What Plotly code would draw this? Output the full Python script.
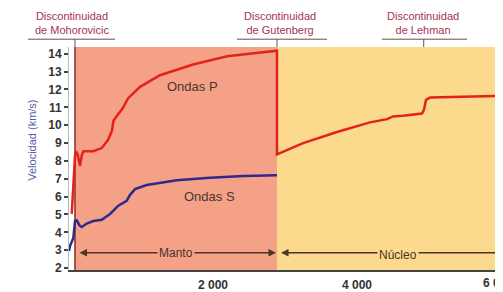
import plotly.graph_objects as go

# ---- data (depth km, velocity km/s) ----
p_depth = [38, 60, 70, 83, 98, 121, 153, 177, 199, 338, 454, 542, 597, 618, 680, 750, 819,
           987, 1264, 1723, 2195, 2653, 2861, 2889, 2889, 3251, 3722, 4181, 4418, 4501, 4640,
           4903, 4931, 4959, 5015, 5570, 6028]
p_vel = [5.03, 6.65, 6.8, 8.27, 8.54, 8.35, 7.73, 8.3, 8.54, 8.54, 8.72, 9.17, 9.7, 10.25, 10.6,
         10.97, 11.5, 12.15, 12.8, 13.4, 13.86, 14.08, 14.16, 14.17, 8.37, 9.0, 9.62, 10.16, 10.34,
         10.49, 10.53, 10.65, 10.88, 11.42, 11.55, 11.6, 11.65]

s_depth = [0, 14, 60, 83, 108, 143, 177, 247, 338, 454, 570, 685, 801, 848, 917, 1079, 1496,
           1959, 2421, 2861, 2889]
s_vel = [2.96, 3.23, 3.68, 4.63, 4.67, 4.4, 4.3, 4.49, 4.63, 4.7, 5.03, 5.49, 5.76, 6.1, 6.42,
         6.65, 6.92, 7.06, 7.15, 7.19, 7.2]

x_range = [0, 6028]
y_range = [1.89, 14.38]
y_ticks = list(range(2, 15))
x_ticks = [2000, 4000]
x_ticktext = ["2 000", "4 000"]
x_offtick = 6000
moho, gutenberg, lehman = 83, 2889, 4927
disc_names = ["de Mohorovicic", "de Gutenberg", "de Lehman"]
disc_label_x = [42, 2931, 4917]
# underline spans (km) for the discontinuity labels
underlines = [(-569, 639), (2333, 3584), (4348, 5528)]
manto_color = "#F5A187"
nucleo_color = "#FBD98D"
label_color = "#A33352"
dark = "#4a3428"
FONT = "Liberation Sans, Arial, sans-serif"


def to_paper(xd):
    return (xd - x_range[0]) / (x_range[1] - x_range[0])


fig = go.Figure()
fig.add_trace(go.Scatter(x=p_depth, y=p_vel, mode="lines",
                         line=dict(color="#E2231B", width=2.5), showlegend=False))
fig.add_trace(go.Scatter(x=s_depth, y=s_vel, mode="lines",
                         line=dict(color="#2E2A8C", width=2.5), showlegend=False))

shapes = [
    dict(type="rect", xref="x", yref="paper", x0=moho, x1=gutenberg, y0=0, y1=1,
         fillcolor=manto_color, line_width=0, layer="below"),
    dict(type="rect", xref="x", yref="paper", x0=gutenberg, x1=x_range[1], y0=0, y1=1,
         fillcolor=nucleo_color, line_width=0, layer="below"),
    dict(type="line", xref="x", yref="paper", x0=moho, x1=moho, y0=0, y1=1,
         line=dict(color="#8E2A22", width=1.5), layer="below"),
]
for xd, (u0, u1) in zip([moho, gutenberg, lehman], underlines):
    shapes.append(dict(type="line", xref="paper", yref="paper", x0=to_paper(xd), x1=to_paper(xd),
                       y0=1.0, y1=1.035, line=dict(color="#555", width=1)))
    shapes.append(dict(type="line", xref="paper", yref="paper", x0=to_paper(u0), x1=to_paper(u1),
                       y0=1.035, y1=1.035, line=dict(color="#6a4a4a", width=1)))
fig.update_layout(shapes=shapes)

ann = []
for lx, name in zip(disc_label_x, disc_names):
    ann.append(dict(x=to_paper(lx), xref="paper", xanchor="center", y=1.0, yref="paper",
                    yanchor="bottom", yshift=9,
                    text="Discontinuidad<br>" + name,
                    showarrow=False, font=dict(family=FONT, size=11, color=label_color),
                    align="center"))
# arrows Manto / Núcleo
ann.append(dict(x=2875, y=2.86, ax=125, ay=2.86, xref="x", yref="y", axref="x", ayref="y",
                text="", showarrow=True, arrowhead=2, arrowside="end+start", arrowsize=1,
                arrowwidth=1.5, arrowcolor=dark))
ann.append(dict(x=2945, y=2.86, ax=6020, ay=2.86, xref="x", yref="y", axref="x", ayref="y",
                text="", showarrow=True, arrowhead=2, arrowside="end", arrowsize=1,
                arrowwidth=1.5, arrowcolor=dark))
ann.append(dict(x=1486, y=2.86, xref="x", yref="y", text="Manto", showarrow=False,
                bgcolor=manto_color, borderpad=1, font=dict(family=FONT, size=12, color=dark)))
ann.append(dict(x=4570, y=2.75, xref="x", yref="y", text="Núcleo", showarrow=False,
                bgcolor=nucleo_color, borderpad=1, font=dict(family=FONT, size=12, color=dark)))
ann.append(dict(x=1722, y=12.16, xref="x", yref="y", text="Ondas P", showarrow=False,
                font=dict(family=FONT, size=13, color="#4a3530")))
ann.append(dict(x=1958, y=6.02, xref="x", yref="y", text="Ondas S", showarrow=False,
                font=dict(family=FONT, size=13, color="#4a3530")))
ann.append(dict(x=-0.085, xref="paper", xanchor="center", y=0.58, yref="paper",
                text="Velocidad (km/s)", textangle=-90, showarrow=False,
                font=dict(family=FONT, size=11, color="#5a5aa8")))
# tick label at 6000 (at the right edge, partly cut like the reference)
ann.append(dict(x=to_paper(x_offtick), xref="paper", xshift=-3,
                y=0, yref="paper", yanchor="top", yshift=-4, text="6 000", showarrow=False,
                font=dict(family=FONT, size=12, color="#333", weight="bold"), xanchor="center"))
fig.update_layout(annotations=ann)

# the page body adds an 8 px offset, so the figure is 8 px smaller on each leading side
fig.update_layout(
    width=495, height=284,
    margin=dict(l=61, r=0, t=39, b=14, pad=0),
    paper_bgcolor="white", plot_bgcolor="white",
    font=dict(family=FONT),
    xaxis=dict(range=x_range, tickvals=x_ticks, ticktext=x_ticktext, showgrid=False,
               zeroline=False, showline=True, linecolor="#444", linewidth=1.5,
               ticks="", ticklen=0, ticklabelstandoff=3,
               tickfont=dict(family=FONT, size=12, color="#333", weight="bold")),
    yaxis=dict(range=y_range, tickvals=y_ticks, showgrid=False, zeroline=False,
               showline=True, linecolor="#b4bcb4", linewidth=1, ticks="outside",
               ticklen=4, tickcolor="#444", tickwidth=1.5,
               tickfont=dict(family=FONT, size=12, color="#333", weight="bold")),
)

fig.write_html("out.html")
